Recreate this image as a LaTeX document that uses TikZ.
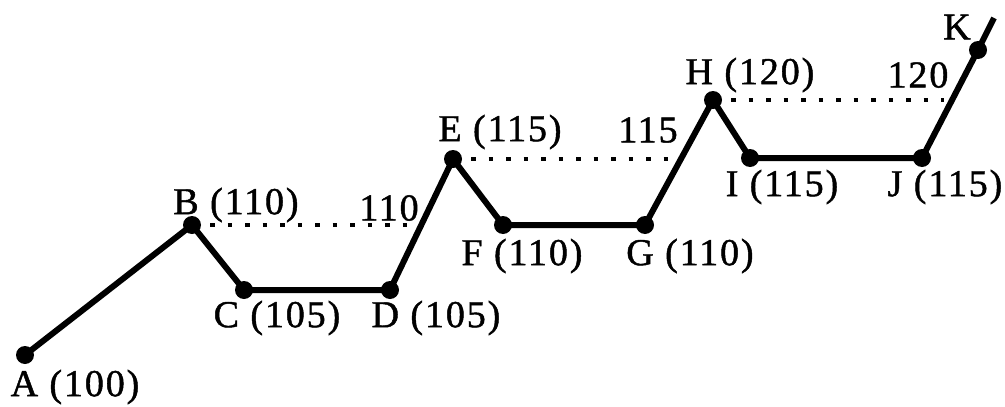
\documentclass[tikz,border=0pt]{standalone}
\usepackage{fontspec}
\setmainfont{Liberation Serif}[LetterSpace=5,FakeBold=1.2]
\begin{document}
\begin{tikzpicture}[x=1pt,y=-1pt,
  dot/.style={circle,fill=black,inner sep=0pt,minimum size=18pt},
  lab/.style={inner sep=0pt,font=\fontsize{38}{40}\selectfont},
  path/.style={line width=6pt,line join=round},
  lvl/.style={line width=4.5pt,dash pattern=on 4.5pt off 13pt}]
\useasboundingbox (0,0) rectangle (1005,407);
\node[dot] (A) at (25,355) {};
\node[dot] (B) at (192,225) {};
\node[dot] (C) at (244,290) {};
\node[dot] (D) at (390,290) {};
\node[dot] (E) at (453,159) {};
\node[dot] (F) at (503,225) {};
\node[dot] (G) at (645,225) {};
\node[dot] (H) at (713,100) {};
\node[dot] (I) at (750,158) {};
\node[dot] (J) at (922,158) {};
\node[dot] (K) at (978,50) {};
\coordinate (Kend) at (994,18);
\coordinate (bd) at (416,225);
\coordinate (eg) at (668,159);
\coordinate (hj) at (944,100);
\draw[path] (A.center) -- (B.center) -- (C.center) -- (D.center) -- (E.center) -- (F.center) -- (G.center) -- (H.center) -- (I.center) -- (J.center) -- (K.center) -- (Kend);
\draw[lvl] (B.center) ++(18,0) -- (bd);
\draw[lvl] (E.center) ++(18,0) -- (eg);
\draw[lvl] (H.center) ++(18,0) -- (hj);
\node[lab] (lA) at (75,387) {A (100)};
\node[lab] (lB) at (236,205) {B (110)};
\node[lab] (l110) at (389,208) {110};
\node[lab] (lC) at (277,318) {C (105)};
\node[lab] (lD) at (436,318) {D (105)};
\node[lab] (lE) at (500,132) {E (115)};
\node[lab] (l115) at (648,130) {115};
\node[lab] (lF) at (522,256) {F (110)};
\node[lab] (lG) at (690,256) {G (110)};
\node[lab] (lH) at (750,75) {H (120)};
\node[lab] (l120) at (918,75) {120};
\node[lab] (lI) at (782,187) {I (115)};
\node[lab] (lJ) at (945,187) {J (115)};
\node[lab] (lK) at (957,27) {K};
\end{tikzpicture}
\end{document}
